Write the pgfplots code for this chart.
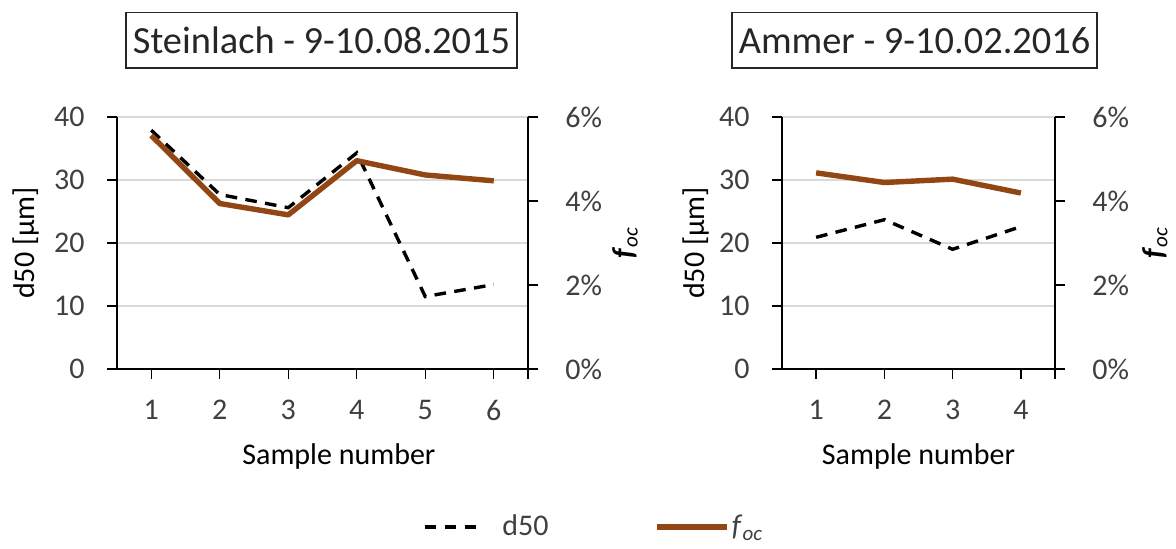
\documentclass[border=0pt]{standalone}
\usepackage{pgfplots}
\pgfplotsset{compat=1.18}
\usepackage{fontspec}
\setmainfont{Carlito}
\definecolor{txt}{HTML}{404040}
\definecolor{brn}{RGB}{145,70,20}
\definecolor{grd}{HTML}{D9D9D9}
\pgfplotsset{
  base/.style={scale only axis, height=126pt, ymin=0,
    font=\fontsize{15}{18}\selectfont,
    /pgf/number format/assume math mode=true,
    tick align=outside, major tick length=5pt,
    tick style={black, line width=0.7pt},
    axis line style={black, line width=0.7pt, -},
    ticklabel style={text=txt},
    label style={text=txt},
  },
  lefty/.style={base, axis x line*=bottom, axis y line*=left,
    ymax=40, ytick={0,10,20,30,40},
    ymajorgrids, grid style={grd, line width=0.8pt},
    yticklabel style={anchor=east, inner sep=0pt, xshift=-11pt},
    xticklabel style={anchor=north, inner sep=0pt, yshift=-10.3pt},
    every axis y label/.style={at={(axis description cs:#1,0.5)}, rotate=90, anchor=center},
  },
  righty/.style={base, axis x line=none, axis y line*=right,
    ymax=6, ytick={0,2,4,6},
    yticklabel={\pgfmathprintnumber{\tick}\%},
    yticklabel style={anchor=west, inner sep=0pt, xshift=13.5pt},
    every axis y label/.style={at={(axis description cs:#1,0.5)}, rotate=90, anchor=center},
  },
  dline/.style={black, line width=1.7pt, dash pattern=on 5.8pt off 4.2pt},
  bline/.style={brn, line width=2.7pt, line join=round},
  dleg/.style={legend image code/.code={\draw[##1] (0pt,0pt) -- (25.5pt,0pt); \path (37pt,0pt);}},
  bleg/.style={legend image code/.code={\draw[##1] (0pt,0pt) -- (35pt,0pt);}},
}
\begin{document}
\begin{tikzpicture}
\path[use as bounding box] (0,0) rectangle (588pt,274.5pt);
% ---------- left panel ----------
\begin{axis}[lefty=-0.2214, at={(58.5pt,90pt)}, width=205.5pt,
  xmin=0.5, xmax=6.5, xtick={1,2,3,4,5,6},
  extra x ticks={6.5}, extra x tick labels={},
  ylabel={d50 [µm]}, xlabel={Sample number},
  every axis x label/.style={at={(axis description cs:0.54,-0.349)}, anchor=center},
  legend columns=2,
  legend style={draw=none, fill=none, inner sep=0pt,
    at={(axis description cs:1.1606,-0.627)}, anchor=center,
    font=\fontsize{15}{18}\selectfont, text=txt,
    nodes={inner sep=1pt},
    /tikz/every even column/.append style={column sep=52pt}},
  ]
\addplot[dline, dleg]
  coordinates {(1,37.9) (2,27.7) (3,25.6) (4,34.3) (5,11.5) (6,13.4)};
\addlegendentry{d50}
\addlegendimage{bline, bleg}
\addlegendentry{\textit{f}\textsubscript{\textit{oc}}}
\end{axis}
\begin{axis}[righty=1.236, at={(58.5pt,90pt)}, width=205.5pt,
  xmin=0.5, xmax=6.5,
  ylabel={\textbf{\textit{f}}\textsubscript{\textit{oc}}}]
\addplot[bline] coordinates {(1,5.56) (2,3.94) (3,3.67) (4,4.96) (5,4.62) (6,4.48)};
\end{axis}
% ---------- right panel ----------
\begin{axis}[lefty=-0.315, at={(391pt,90pt)}, width=136.5pt,
  xmin=0.5, xmax=4.5, xtick={1,2,3,4},
  extra x ticks={4.5}, extra x tick labels={},
  ylabel={d50 [µm]}, xlabel={Sample number},
  every axis x label/.style={at={(axis description cs:0.5,-0.349)}, anchor=center},
  ]
\addplot[dline] coordinates {(1,20.9) (2,23.7) (3,19.0) (4,22.6)};
\end{axis}
\begin{axis}[righty=1.366, at={(391pt,90pt)}, width=136.5pt,
  xmin=0.5, xmax=4.5,
  ylabel={\textbf{\textit{f}}\textsubscript{\textit{oc}}}]
\addplot[bline] coordinates {(1,4.67) (2,4.44) (3,4.52) (4,4.19)};
\end{axis}
% ---------- titles ----------
\node[draw=black!85, line width=0.8pt, minimum width=195.5pt, minimum height=27.75pt,
  inner sep=0pt, font=\fontsize{19.2}{23}\selectfont, text=black!85]
  at (160.75pt,254.35pt) {Steinlach - 9-10.08.2015};
\node[draw=black!85, line width=0.8pt, minimum width=182.5pt, minimum height=27.75pt,
  inner sep=0pt, font=\fontsize{19.2}{23}\selectfont, text=black!85]
  at (457.25pt,254.35pt) {Ammer - 9-10.02.2016};
\end{tikzpicture}
\end{document}
